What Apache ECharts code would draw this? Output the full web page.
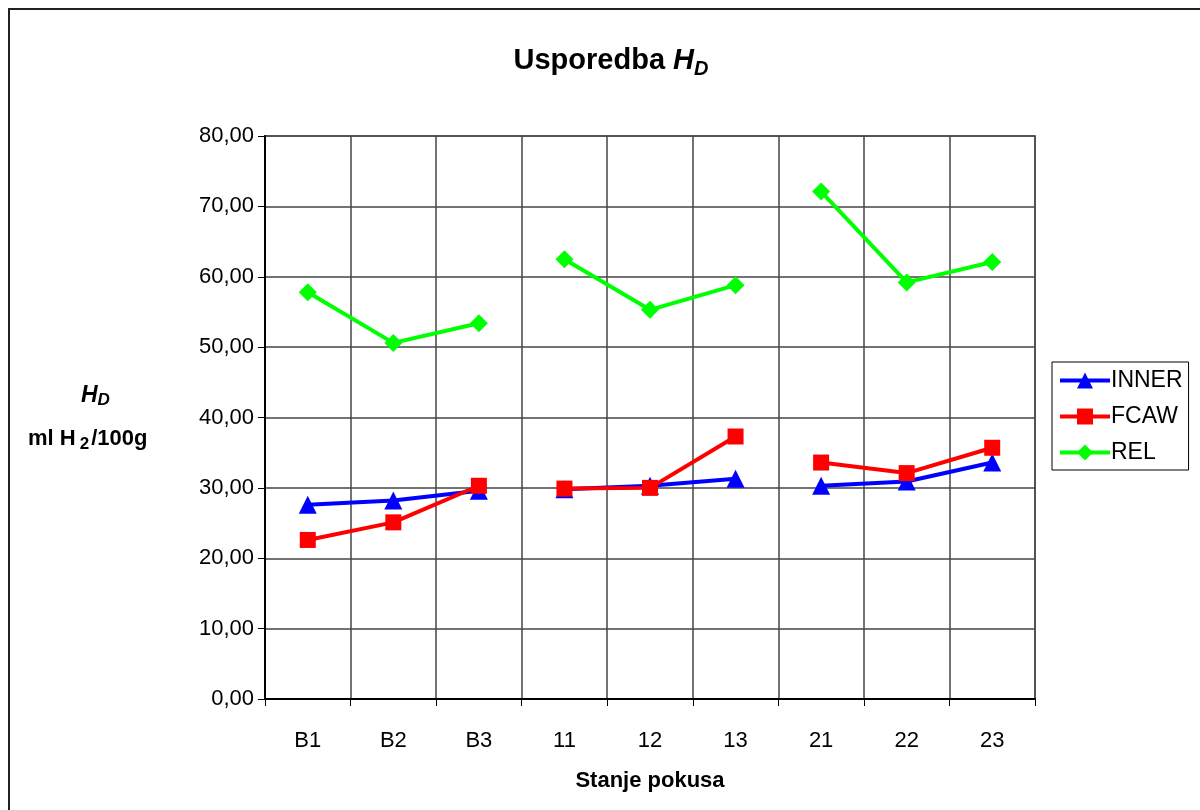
<!DOCTYPE html>
<html>
<head>
<meta charset="utf-8">
<script src="https://cdn.jsdelivr.net/npm/echarts@6/dist/echarts.min.js"></script>
<style>
  html, body { margin: 0; padding: 0; background: #fff; }
  #chart { width: 1200px; height: 810px; }
</style>
</head>
<body>
<div id="chart"></div>
<script>
// kategorije i grupe (linija se prekida između grupa)
const categories = ['B1', 'B2', 'B3', '11', '12', '13', '21', '22', '23'];
const groups = [[0, 1, 2], [3, 4, 5], [6, 7, 8]];

// H_D vrijednosti, ml H2/100g
const inner = [27.6, 28.2, 29.6, 29.8, 30.3, 31.3, 30.3, 30.9, 33.6];
const fcaw  = [22.6, 25.1, 30.3, 29.9, 30.0, 37.3, 33.6, 32.1, 35.7];
const rel   = [57.8, 50.6, 53.4, 62.5, 55.3, 58.8, 72.1, 59.2, 62.1];

const yTicks = { min: 0, max: 80, interval: 10 };

const font = '"Liberation Sans", Arial, sans-serif';

const seriesDefs = [
  { name: 'INNER', data: inner, color: '#0000ff', symbol: 'triangle', size: 18 },
  { name: 'FCAW',  data: fcaw,  color: '#ff0000', symbol: 'rect',     size: 16 },
  { name: 'REL',   data: rel,   color: '#00ff00', symbol: 'diamond',  size: 18 },
];

// svaka grupa je zaseban segment iste serije (isti naziv -> jedna stavka legende)
const series = [];
seriesDefs.forEach(def => {
  groups.forEach(idx => {
    series.push({
      name: def.name,
      type: 'line',
      data: def.data.map((v, i) => (idx.includes(i) ? v : '-')),
      symbol: def.symbol,
      symbolSize: def.size,
      showAllSymbol: true,
      connectNulls: false,
      itemStyle: { color: def.color },
      lineStyle: { color: def.color, width: 4 },
      z: 3,
    });
  });
});

const chart = echarts.init(document.getElementById('chart'), null, { renderer: 'canvas' });

chart.setOption({
  animation: false,
  backgroundColor: '#fff',
  textStyle: { fontFamily: font },
  title: {
    text: '{t|Usporedba }{h|H}{d|D}',
    left: 606,
    textAlign: 'center',
    top: 38,
    textStyle: {
      rich: {
        t: { fontFamily: font, fontWeight: 'bold', fontSize: 29, color: '#000' },
        h: { fontFamily: font, fontWeight: 'bold', fontStyle: 'italic', fontSize: 29, color: '#000' },
        d: { fontFamily: font, fontWeight: 'bold', fontStyle: 'italic', fontSize: 20, color: '#000', padding: [16, 0, 0, 0] },
      },
    },
  },
  legend: {
    data: ['INNER', 'FCAW', 'REL'],
    orient: 'vertical',
    left: 1052,
    top: 362,
    width: 144,
    padding: [7, 6, 6, 6],
    itemGap: 13,
    itemWidth: 50,
    itemHeight: 20,
    borderColor: '#000',
    borderWidth: 1,
    backgroundColor: '#fff',
    lineStyle: { width: 4 },
    textStyle: { fontFamily: font, fontSize: 23, color: '#000', padding: [0, 0, 0, -4] },
  },
  grid: {
    left: 265,
    right: 165,
    top: 136,
    bottom: 111,
    show: true,
    borderColor: '#808080',
    borderWidth: 2,
  },
  xAxis: {
    type: 'category',
    data: categories,
    boundaryGap: true,
    name: 'Stanje pokusa',
    nameLocation: 'middle',
    nameGap: 71,
    nameTextStyle: { fontFamily: font, fontWeight: 'bold', fontSize: 22, color: '#000' },
    axisLine: { lineStyle: { color: '#000', width: 2 } },
    axisTick: { show: true, alignWithLabel: false, length: 7, lineStyle: { color: '#000' } },
    axisLabel: { fontFamily: font, fontSize: 22, color: '#000', margin: 31 },
    splitLine: { show: true, lineStyle: { color: '#444', width: 1.5 } },
  },
  yAxis: {
    type: 'value',
    min: yTicks.min,
    max: yTicks.max,
    interval: yTicks.interval,
    axisLine: { show: true, lineStyle: { color: '#000', width: 2 } },
    axisTick: { show: true, length: 7, lineStyle: { color: '#000' } },
    axisLabel: {
      fontFamily: font, fontSize: 22, color: '#000', margin: 11,
      formatter: v => v.toFixed(2).replace('.', ','),
    },
    splitLine: { show: true, lineStyle: { color: '#444', width: 1.5 } },
  },
  graphic: [
    {
      type: 'rect',
      shape: { x: 9, y: 9, width: 1200, height: 820 },
      style: { fill: 'none', stroke: '#222', lineWidth: 2 },
      silent: true,
    },
    {
      type: 'text',
      left: 81,
      top: 384,
      style: {
        text: '{h|H}{d|D}',
        rich: {
          h: { fontFamily: font, fontWeight: 'bold', fontStyle: 'italic', fontSize: 23, fill: '#000' },
          d: { fontFamily: font, fontWeight: 'bold', fontStyle: 'italic', fontSize: 17, fill: '#000', padding: [10, 0, 0, 0] },
        },
      },
    },
    {
      type: 'text',
      left: 28,
      top: 428,
      style: {
        text: '{a|ml H}{s|2}{a|/100g}',
        rich: {
          a: { fontFamily: font, fontWeight: 'bold', fontSize: 22, fill: '#000' },
          s: { fontFamily: font, fontWeight: 'bold', fontSize: 17, fill: '#000', padding: [10, 2, 0, 4] },
        },
      },
    },
  ],
  series: series,
});
</script>
</body>
</html>
